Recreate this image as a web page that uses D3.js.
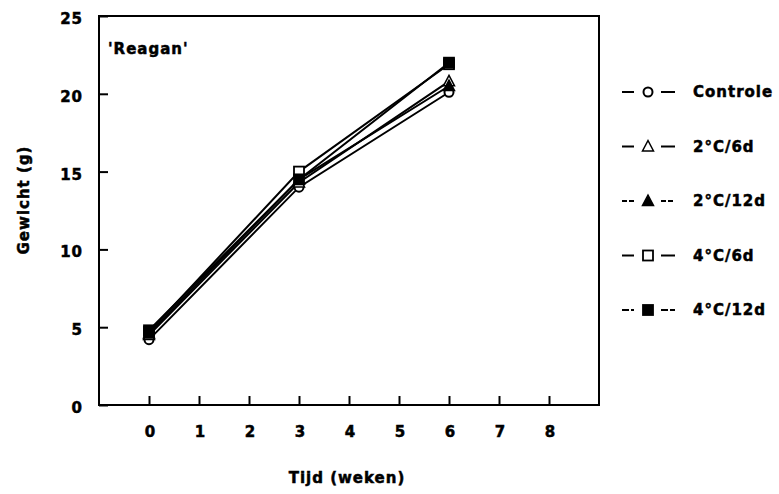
<!DOCTYPE html>
<html>
<head>
<meta charset="utf-8">
<script src="https://cdn.jsdelivr.net/npm/d3@7"></script>
<style>
  body { margin: 0; background: #fff; }
  text { font-family: "DejaVu Sans", sans-serif; font-weight: bold; font-size: 15px; letter-spacing: 1px; fill: #000; stroke: #000; stroke-width: 0.5px; }
</style>
</head>
<body>
<svg id="chart" width="779" height="494"></svg>
<script>
// data
var weeks = [0, 3, 6];
var controle = [4.2, 14.0, 20.1];
var c2d6 = [4.5, 14.3, 20.8];
var c2d12 = [4.6, 14.5, 20.5];
var c4d6 = [4.7, 15.0, 21.9];
var c4d12 = [4.8, 14.5, 22.0];
var seriesNames = ["Controle", "2°C/6d", "2°C/12d", "4°C/6d", "4°C/12d"];
var xTicks = [0, 1, 2, 3, 4, 5, 6, 7, 8];
var yTicks = [0, 5, 10, 15, 20, 25];

var series = [
  { name: seriesNames[0], values: controle, shape: "circle", filled: false, dash: null },
  { name: seriesNames[1], values: c2d6, shape: "triangle", filled: false, dash: null },
  { name: seriesNames[2], values: c2d12, shape: "triangle", filled: true, dash: "5,2" },
  { name: seriesNames[3], values: c4d6, shape: "square", filled: false, dash: null },
  { name: seriesNames[4], values: c4d12, shape: "square", filled: true, dash: "7,2" }
];

var svg = d3.select("#chart");
var pLeft = 99, pRight = 599, pTop = 16, pBottom = 405;

var x = d3.scaleLinear().domain([-1, 9]).range([pLeft, pRight]);
var y = d3.scaleLinear().domain([0, 25]).range([pBottom, pTop]);

// x axis, ticks pointing inward
var xa = svg.append("g").attr("transform", "translate(0," + pBottom + ")")
  .call(d3.axisBottom(x).tickValues(xTicks).tickSizeInner(-9).tickSizeOuter(0).tickPadding(21));
xa.select(".domain").remove();
xa.selectAll("line").attr("stroke", "#000").attr("stroke-width", 2);
xa.selectAll("text").attr("font-size", null).attr("font-family", null).attr("dy", "0.71em").attr("dx", "1px");

var ya = svg.append("g").attr("transform", "translate(" + pLeft + ",0)")
  .call(d3.axisLeft(y).tickValues(yTicks).tickSizeInner(-9).tickSizeOuter(0).tickPadding(16));
ya.select(".domain").remove();
ya.selectAll("line").attr("stroke", "#000").attr("stroke-width", 2);
ya.selectAll("text").attr("font-size", null).attr("font-family", null).attr("dy", "0.5em");

// frame
svg.append("rect").attr("x", pLeft).attr("y", pTop)
  .attr("width", pRight - pLeft).attr("height", pBottom - pTop)
  .attr("fill", "none").attr("stroke", "#000").attr("stroke-width", 2);

// titles
svg.append("text").attr("x", 347).attr("y", 478).attr("dy", "0.35em")
  .attr("text-anchor", "middle").text("Tijd (weken)");
svg.append("text").attr("transform", "translate(24,200) rotate(-90)").attr("dy", "0.35em")
  .attr("text-anchor", "middle").text("Gewicht (g)");
svg.append("text").attr("x", 108).attr("y", 49).attr("dy", "0.35em").text("'Reagan'");

function drawMarker(g, s, cx, cy) {
  var fill = s.filled ? "#000" : "#fff";
  if (s.shape === "circle") {
    g.append("circle").attr("cx", cx).attr("cy", cy).attr("r", 4.5)
      .attr("fill", fill).attr("stroke", "#000").attr("stroke-width", 2);
  } else if (s.shape === "square") {
    g.append("rect").attr("x", cx - 5).attr("y", cy - 5).attr("width", 10).attr("height", 10)
      .attr("fill", fill).attr("stroke", "#000").attr("stroke-width", 1.8);
  } else {
    g.append("path").attr("d", "M" + cx + "," + (cy - 6) + "L" + (cx + 5.5) + "," + (cy + 4.5) + "L" + (cx - 5.5) + "," + (cy + 4.5) + "Z")
      .attr("fill", fill).attr("stroke", "#000").attr("stroke-width", 1.5);
  }
}

var line = d3.line().x(function(d) { return x(d[0]); }).y(function(d) { return y(d[1]); });

var plot = svg.append("g");
series.forEach(function(s) {
  var pts = weeks.map(function(w, i) { return [w, s.values[i]]; });
  plot.append("path").attr("d", line(pts)).attr("fill", "none")
    .attr("stroke", "#000").attr("stroke-width", 2);
});
series.forEach(function(s) {
  weeks.forEach(function(w, i) { drawMarker(plot, s, x(w), y(s.values[i])); });
});

// legend
var lg = svg.append("g");
series.forEach(function(s, i) {
  var ly = 92 + i * 54.5;
  [[622, 634], [661, 675]].forEach(function(seg) {
    lg.append("line").attr("x1", seg[0]).attr("x2", seg[1]).attr("y1", ly).attr("y2", ly)
      .attr("stroke", "#000").attr("stroke-width", 2).attr("stroke-dasharray", s.dash);
  });
  drawMarker(lg, s, 648, ly);
  lg.append("text").attr("x", 693).attr("y", ly).attr("dy", "0.35em").text(s.name);
});
</script>
</body>
</html>
